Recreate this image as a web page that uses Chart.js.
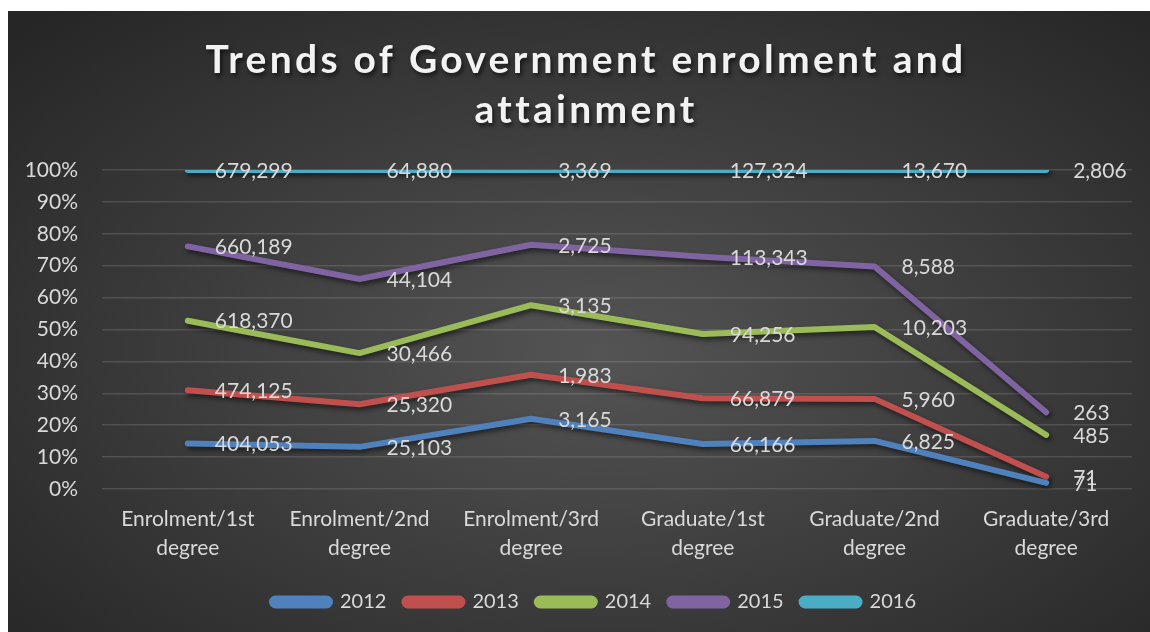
<!DOCTYPE html>
<html>
<head>
<meta charset="utf-8">
<script src="https://cdn.jsdelivr.net/npm/chart.js@4.4.0/dist/chart.umd.min.js"></script>
<style>
  html, body { margin: 0; padding: 0; background: #ffffff; }
  #wrap {
    position: absolute; left: 8px; top: 11px; width: 1142px; height: 621px;
    background: radial-gradient(ellipse 70% 75% at 52% 55%, #545454 0%, #3d3d3d 50%, #262626 100%);
  }
  canvas { display: block; }
</style>
</head>
<body>
<div id="wrap"><canvas id="c" width="1142" height="621"></canvas></div>
<script>
// Categories (level / stage) and years
const categories = ['Enrolment/1st degree', 'Enrolment/2nd degree', 'Enrolment/3rd degree',
                    'Graduate/1st degree', 'Graduate/2nd degree', 'Graduate/3rd degree'];
const years = ['2012', '2013', '2014', '2015', '2016'];

// Head counts per year, one entry per category
const v2012 = [404053, 25103, 3165, 66166, 6825, 71];
const v2013 = [474125, 25320, 1983, 66879, 5960, 71];
const v2014 = [618370, 30466, 3135, 94256, 10203, 485];
const v2015 = [660189, 44104, 2725, 113343, 8588, 263];
const v2016 = [679299, 64880, 3369, 127324, 13670, 2806];

const seriesValues = [v2012, v2013, v2014, v2015, v2016];
const seriesColors = ['#4f81bd', '#c0504d', '#9bbb59', '#8064a2', '#4bacc6'];

const titleLines = ['Trends of Government enrolment and', 'attainment'];
const percentTicks = [0, 10, 20, 30, 40, 50, 60, 70, 80, 90, 100];

const FONT = 'Lato, "Open Sans", sans-serif';
const TEXT = '#d9d9d9';

// Share of each year within a category (100% stacked)
const totals = categories.map((_, j) => seriesValues.reduce((s, arr) => s + arr[j], 0));
const shares = seriesValues.map(arr => arr.map((v, j) => v / totals[j] * 100));

const datasets = years.map((y, i) => ({
  label: y,
  data: shares[i],
  raw: seriesValues[i],
  borderColor: seriesColors[i],
  backgroundColor: seriesColors[i],
  borderWidth: 6,
  borderCapStyle: 'round',
  borderJoinStyle: 'round',
  pointRadius: 0,
  pointHoverRadius: 0,
  tension: 0,
  fill: false
}));

// Soft drop shadow under the series lines
const lineShadow = {
  id: 'lineShadow',
  beforeDatasetsDraw(chart) {
    const ctx = chart.ctx;
    ctx.save();
    ctx.shadowColor = 'rgba(0,0,0,0.55)';
    ctx.shadowBlur = 5;
    ctx.shadowOffsetX = 2;
    ctx.shadowOffsetY = 3;
  },
  afterDatasetsDraw(chart) {
    chart.ctx.restore();
  }
};

// Value labels to the right of each point
const valueLabels = {
  id: 'valueLabels',
  afterDatasetsDraw(chart) {
    const ctx = chart.ctx;
    ctx.save();
    ctx.font = '21px ' + FONT;
    ctx.fillStyle = TEXT;
    ctx.textAlign = 'left';
    ctx.textBaseline = 'middle';
    chart.data.datasets.forEach((ds, i) => {
      const meta = chart.getDatasetMeta(i);
      meta.data.forEach((pt, j) => {
        ctx.fillText(ds.raw[j].toLocaleString('en-US'), pt.x + 27, pt.y + 1);
      });
    });
    ctx.restore();
  }
};

// Two-line spaced bold title
const spacedTitle = {
  id: 'spacedTitle',
  afterDraw(chart) {
    const ctx = chart.ctx;
    ctx.save();
    ctx.font = 'bold 39px ' + FONT;
    ctx.fillStyle = '#f2f2f2';
    ctx.textAlign = 'center';
    ctx.textBaseline = 'middle';
    if ('letterSpacing' in ctx) ctx.letterSpacing = '3.3px';
    ctx.shadowColor = 'rgba(0,0,0,0.6)';
    ctx.shadowBlur = 4;
    ctx.shadowOffsetX = 2;
    ctx.shadowOffsetY = 3;
    titleLines.forEach((t, k) => ctx.fillText(t, 578, 49 + k * 50));
    ctx.restore();
  }
};

// Nudge the legend row a little to the right
const legendShift = {
  id: 'legendShift',
  beforeDraw(chart) {
    const lg = chart.legend;
    if (lg && !lg._shifted) {
      lg.left += 15; lg.right += 15;
      lg.legendHitBoxes.forEach(b => { b.left += 15; });
      lg._shifted = true;
    }
  }
};

new Chart(document.getElementById('c'), {
  type: 'line',
  data: { labels: categories.map(c => c.split(' ')), datasets },
  plugins: [lineShadow, valueLabels, spacedTitle, legendShift],
  options: {
    responsive: false,
    devicePixelRatio: 1,
    animation: false,
    events: [],
    layout: { padding: { top: 159, left: 18, right: 18, bottom: 10 } },
    scales: {
      x: {
        offset: true,
        grid: { display: false, drawTicks: false },
        border: { display: false },
        afterFit(scale) {
          scale.paddingLeft = 0;
          scale.paddingRight = 0;
          scale.height -= 5;
        },
        ticks: {
          color: TEXT,
          font: { family: FONT, size: 21, lineHeight: 1.38 },
          maxRotation: 0,
          autoSkip: false,
          padding: 16
        }
      },
      y: {
        stacked: true,
        min: 0,
        max: 100,
        afterBuildTicks(scale) { scale.ticks = percentTicks.map(v => ({ value: v })); },
        afterFit(scale) { scale.width = 76; },
        grid: { color: 'rgba(255,255,255,0.13)', lineWidth: 1.5, drawTicks: false },
        border: { display: false },
        ticks: {
          color: TEXT,
          font: { family: FONT, size: 21 },
          padding: 24,
          callback: v => v + '%'
        }
      }
    },
    plugins: {
      legend: {
        position: 'bottom',
        labels: {
          color: TEXT,
          font: { family: FONT, size: 20 },
          boxWidth: 58,
          boxHeight: 7,
          useBorderRadius: true,
          borderRadius: 3.5,
          padding: 18
        }
      },
      title: { display: false },
      tooltip: { enabled: false }
    }
  }
});
</script>
</body>
</html>
